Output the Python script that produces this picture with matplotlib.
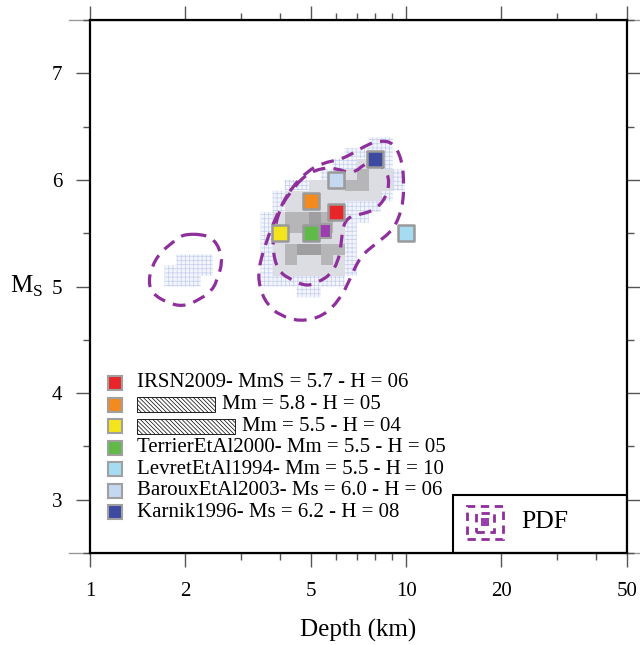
import numpy as np
import matplotlib
matplotlib.use("Agg")
import matplotlib.pyplot as plt
from matplotlib.colors import ListedColormap
from matplotlib.patches import Rectangle, PathPatch
from matplotlib.path import Path

plt.rcParams["font.family"] = ["Liberation Serif", "DejaVu Serif"]
plt.rcParams["mathtext.fontset"] = "custom"
plt.rcParams["mathtext.rm"] = "Liberation Serif"
plt.rcParams["hatch.linewidth"] = 0.5

# --- study solutions (depth km, magnitude) ---
names = ["IRSN2009", None, None, "TerrierEtAl2000", "LevretEtAl1994",
         "BarouxEtAl2003", "Karnik1996"]
mag_types = ["MmS", "Mm", "Mm", "Mm", "Mm", "Ms", "Ms"]
mags = [5.7, 5.8, 5.5, 5.5, 5.5, 6.0, 6.2]
depths = [6, 5, 4, 5, 10, 6, 8]
colors = ["#e8262a", "#f28a1e", "#f4e41b", "#5fba47", "#a6dcf2", "#c4d8f0", "#3d4aa0"]
redact_len = [0, 0.145, 0.182, 0, 0, 0, 0]

# PDF maximum
pdf_peak_depth = 5.5
pdf_peak_mag = 5.52

# --- gridded PDF (rows from M 6.3-6.4 down to 4.9-5.0), 0 = empty ---
pdf_rows = [
    "...................11.",
    ".................1111.",
    "................11221.",
    "...............1223221",
    "............1122233221",
    "...........1222222221.",
    "...........122222111..",
    "..........123343211...",
    "..........12334321....",
    "..........12222221....",
    "..........12344331....",
    "...111....12322321....",
    "..1111....12222221....",
    "..111.....1111111.....",
    ".............11.......",
]
depth_edges = 10 ** (0.16 + 0.038 * np.arange(23))
mag_edges = np.round(np.arange(4.9, 6.41, 0.1), 1)

# --- PDF contours (depth km, magnitude) ---
outer_d = [4.36, 4.08, 3.85, 3.63, 3.40, 3.45, 3.66, 3.99, 4.62, 5.46, 6.18, 6.65,
           7.15, 8.09, 9.10, 9.71, 9.86, 9.71, 9.10, 8.27, 7.53, 6.80, 6.18, 5.46, 4.86]
outer_m = [5.93, 5.79, 5.63, 5.44, 5.16, 4.97, 4.82, 4.73, 4.67, 4.72, 4.88, 5.07,
           5.28, 5.41, 5.53, 5.72, 5.94, 6.19, 6.35, 6.37, 6.33, 6.25, 6.19, 6.16, 6.08]
inner_d = [4.30, 4.72, 5.34, 6.05, 6.75, 7.53, 8.27, 8.90, 8.64, 7.97, 7.26, 6.65,
           6.32, 6.23, 6.09, 5.75, 5.34, 4.86, 4.36, 3.94, 3.77, 3.85, 4.05]
inner_m = [5.88, 6.03, 6.11, 6.11, 6.05, 6.17, 6.16, 6.02, 5.83, 5.72, 5.68, 5.66,
           5.58, 5.39, 5.23, 5.11, 5.05, 5.00, 5.06, 5.14, 5.35, 5.58, 5.77]
left_d = [2.03, 2.23, 2.43, 2.58, 2.62, 2.54, 2.45, 2.23, 1.97, 1.75, 1.58, 1.53,
          1.57, 1.67, 1.82, 1.93]
left_m = [5.49, 5.49, 5.46, 5.35, 5.22, 5.09, 4.97, 4.88, 4.81, 4.85, 4.93, 5.04,
          5.19, 5.32, 5.41, 5.47]

purple = "#8e2f9b"


def smooth_loop(xs, ys):
    # closed quadratic bezier through the midpoints of the vertices
    pts = list(zip(xs, ys))
    n = len(pts)
    mid = lambda a, b: ((a[0] * b[0]) ** 0.5, (a[1] + b[1]) / 2)  # log-x midpoint
    verts = [mid(pts[0], pts[1])]
    codes = [Path.MOVETO]
    for i in range(1, n + 1):
        p, q = pts[i % n], pts[(i + 1) % n]
        verts += [p, mid(p, q)]
        codes += [Path.CURVE3, Path.CURVE3]
    return Path(verts, codes)


fig = plt.figure(figsize=(6.4, 6.45), dpi=100)
ax = fig.add_axes([0.1406, 0.1426, 0.8391, 0.8264])
ax.set_xscale("log")

lv = np.array([[0 if c == "." else int(c) for c in r] for r in pdf_rows[::-1]])
low = np.ma.masked_where(lv != 1, lv)
coll = ax.pcolor(depth_edges, mag_edges, low, cmap=ListedColormap(["#f3f5fc"]),
                 edgecolors="#c3cdee", linewidths=0, zorder=1)
coll.set_hatch("++++")
high = np.ma.masked_where(lv < 2, lv)
ax.pcolormesh(depth_edges, mag_edges, high,
              cmap=ListedColormap(["#dcdde2", "#b6b6b9", "#9f9fa2"]),
              vmin=1.5, vmax=4.5, zorder=1)

for xd, ym in [(outer_d, outer_m), (inner_d, inner_m), (left_d, left_m)]:
    ax.add_patch(PathPatch(smooth_loop(xd, ym), fc="none", ec=purple, lw=2.3,
                           linestyle=(0, (4, 2.6)), zorder=3))

ax.scatter(depths, mags, s=11.5 ** 2, marker="s", c=colors, edgecolors="#9a9a9a",
           linewidths=1.8, zorder=5)
ax.scatter([pdf_peak_depth], [pdf_peak_mag], s=9.5 ** 2, marker="s", c="#9b3fae",
           edgecolors="#a0a0a0", linewidths=1.5, zorder=4)

# legend of solutions
for i in range(len(names)):
    y = 0.319 - i * 0.0404
    ax.plot(0.0466, y, "s", ms=10, mfc=colors[i], mec="#a0a0a0", mew=1.5,
            transform=ax.transAxes, zorder=6)
    tail = f"{mag_types[i]} = {mags[i]:.1f} - H = {depths[i]:02d}"
    if names[i] is None:
        ax.add_patch(Rectangle((0.0875, y - 0.014), redact_len[i], 0.028,
                               transform=ax.transAxes, fc="white", ec="black",
                               lw=0.6, hatch="\\" * 8, zorder=6))
        ax.text(0.0875 + redact_len[i] + 0.013, y, tail, transform=ax.transAxes,
                va="center", ha="left", fontsize=15, zorder=6)
    else:
        ax.text(0.0875, y, f"{names[i]}- {tail}", transform=ax.transAxes,
                va="center", ha="left", fontsize=15, zorder=6)

# PDF legend box
ax.add_patch(Rectangle((0.676, 0), 0.324, 0.109, transform=ax.transAxes,
                       fc="white", ec="black", lw=1.5, zorder=7))
cx, cy = 0.7356, 0.058
for w, h in [(0.067, 0.062), (0.035, 0.036)]:
    ax.add_patch(Rectangle((cx - w / 2, cy - h / 2), w, h, transform=ax.transAxes,
                           fc="none", ec=purple, lw=2, linestyle=(0, (3, 2)), zorder=8))
ax.add_patch(Rectangle((cx - 0.008, cy - 0.008), 0.016, 0.016, transform=ax.transAxes,
                       fc="#9b3fae", ec="none", zorder=8))
ax.text(0.804, cy, "PDF", transform=ax.transAxes, va="center", ha="left",
        fontsize=18.5, zorder=8)

# axes
ax.set_xlim(1, 50)
ax.set_ylim(2.5, 7.5)
ax.set_xticks([1, 2, 5, 10, 20, 50])
ax.set_xticklabels(["1", "2", "5", "10", "20", "50"])
ax.set_xticks([3, 4, 6, 7, 8, 9, 30, 40], minor=True)
ax.set_xticklabels([], minor=True)
ax.set_yticks([3, 4, 5, 6, 7])
ax.set_yticks(np.arange(2.5, 7.51, 0.5), minor=True)
ax.tick_params(which="both", direction="out", top=True, right=True,
               color="#555555", width=1)
ax.tick_params(which="major", length=10, labelsize=15)
ax.tick_params(which="minor", length=5)
ax.tick_params(axis="x", which="major", pad=11)
ax.tick_params(axis="y", which="major", pad=10)
for sp in ax.spines.values():
    sp.set_linewidth(1.6)
    sp.set_zorder(9)
for yy in (0, 1):
    ax.plot([-0.04, 1.025], [yy, yy], color="#999999", lw=1, transform=ax.transAxes,
            clip_on=False, zorder=0)

ax.set_xlabel("Depth (km)", fontsize=18, labelpad=13)
ax.set_ylabel(r"M$_{\rm S}$", fontsize=18, rotation=0, labelpad=18, va="center")

fig.savefig("out.png", dpi=100, facecolor="white")
